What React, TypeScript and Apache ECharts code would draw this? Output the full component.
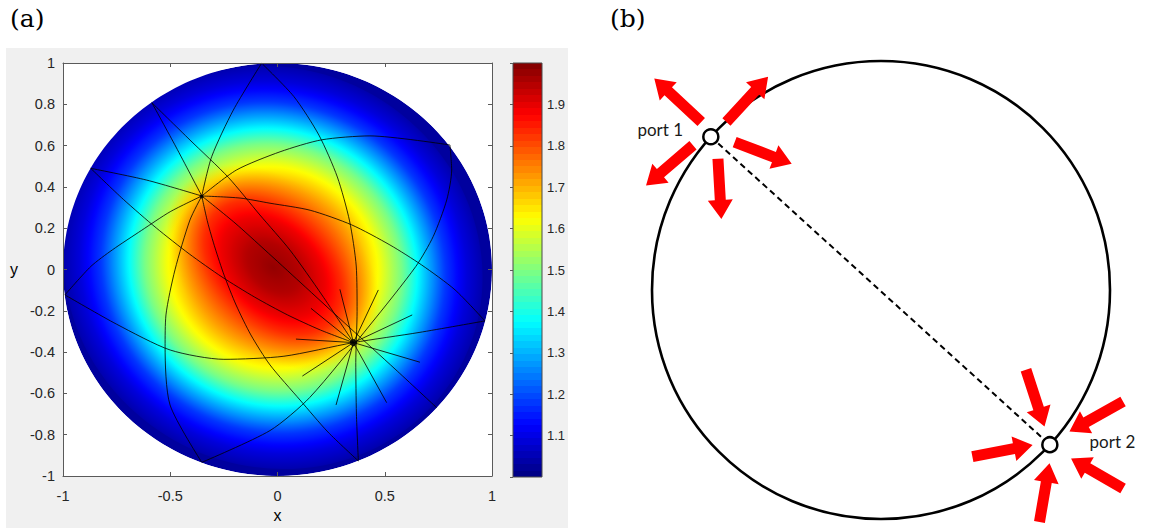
import React, { useEffect, useRef } from "react";
import * as echarts from "echarts";

// ---------------- Panel (a): refractive-index map ----------------
const colorMin = 1.0;
const colorMax = 2.0;
const colorbarTicks = [1.1, 1.2, 1.3, 1.4, 1.5, 1.6, 1.7, 1.8, 1.9];

// index value read along the x / y axes at a given distance from the peak
const fieldCenter = [-0.02, 0.01];
const outerAspect = 1.05; // outer contours: major (upper-left/lower-right) / minor
const innerAspect = 1.45; // elongated core
const innerMinor = 0.4; // extent of the elongated core along the minor axis
const profileDist = [0, 0.1, 0.2, 0.3, 0.4, 0.5, 0.6, 0.7, 0.8, 0.9, 1.0];
const profileValue = [1.98, 1.95, 1.89, 1.8, 1.71, 1.61, 1.49, 1.33, 1.18, 1.09, 1.03];

const port1A = [-0.354, 0.354];
const port2A = [0.354, -0.354];

// ray paths (x, y)
const rayP1T = [[-0.353, 0.356], [-0.307, 0.546], [-0.206, 0.772], [-0.074, 0.999]];
const rayTBR2 = [[-0.074, 0.999], [0.076, 0.838], [0.193, 0.651], [0.279, 0.448], [0.336, 0.235], [0.367, 0.017], [0.371, -0.203], [0.365, -0.45], [0.368, -0.7], [0.377, -0.927]];
const rayP1B = [[-0.353, 0.356], [-0.408, 0.24], [-0.478, -0.002], [-0.52, -0.22], [-0.524, -0.374], [-0.501, -0.656], [-0.353, -0.934]];
const rayP1R = [[-0.353, 0.356], [-0.191, 0.482], [0.012, 0.57], [0.206, 0.628], [0.431, 0.647], [0.804, 0.603]];
const rayRB = [[0.804, 0.603], [0.812, 0.482], [0.789, 0.337], [0.726, 0.16], [0.645, 0.015], [0.431, -0.269], [0.15, -0.62], [-0.035, -0.78], [-0.353, -0.934]];
const rayP1R2 = [[-0.353, 0.356], [-0.175, 0.346], [-0.035, 0.321], [0.152, 0.287], [0.346, 0.216], [0.524, 0.119], [0.672, 0.022], [0.828, -0.099], [0.967, -0.249]];
const rayR2P2L = [[0.967, -0.249], [0.66, -0.305], [0.354, -0.354], [0.03, -0.42], [-0.25, -0.435], [-0.5, -0.39], [-0.75, -0.265], [-0.991, -0.123]];
const rayP1L = [[-0.353, 0.356], [-0.5, 0.28], [-0.633, 0.19], [-0.77, 0.095], [-0.87, 0.015], [-0.991, -0.123]];
const rayV2P1 = [[-0.871, 0.49], [-0.61, 0.433], [-0.353, 0.356]];
const rayV2P2 = [[-0.871, 0.49], [-0.718, 0.339], [-0.565, 0.201], [-0.412, 0.076], [-0.259, -0.036], [-0.106, -0.134], [0.047, -0.22], [0.2, -0.293], [0.354, -0.354]];
const rayV1P1 = [[-0.586, 0.808], [-0.473, 0.593], [-0.353, 0.356]];
const rayV1P2 = [[-0.586, 0.808], [-0.408, 0.627], [-0.229, 0.446], [-0.082, 0.264], [0.058, 0.094], [0.207, -0.123], [0.354, -0.354]];
const rayP1BR = [[-0.353, 0.356], [-0.198, 0.225], [-0.058, 0.094], [0.105, -0.061], [0.338, -0.283], [0.548, -0.482], [0.742, -0.669]];
const rayP1BR2 = [[-0.353, 0.356], [-0.326, 0.23], [-0.291, 0.104], [-0.249, -0.027], [-0.193, -0.172], [-0.124, -0.317], [-0.035, -0.462], [0.105, -0.632], [0.235, -0.787], [0.377, -0.927]];

// short rays converging on port 2 (end points)
const starEnds = [[0.291, -0.096], [0.47, -0.099], [0.156, -0.188], [0.628, -0.22], [0.086, -0.337], [0.664, -0.449], [0.116, -0.516], [0.509, -0.645], [0.273, -0.656]];

// ---------------- Panel (b): schematic ----------------
const portAngleDeg = [138.0, -42.5];
const portNames = ["port 1", "port 2"];
// arrows: tailX, tailY, tipX, tipY (unit = circle radius)
const port1Arrows = [[-0.785, 0.734, -0.99, 0.924], [-0.675, 0.734, -0.493, 0.931], [-0.639, 0.646, -0.39, 0.551], [-0.712, 0.573, -0.697, 0.31], [-0.821, 0.632, -1.026, 0.456]];
const port2Arrows = [[0.633, -0.348, 0.714, -0.596], [1.057, -0.487, 0.823, -0.618], [0.399, -0.728, 0.662, -0.677], [1.057, -0.867, 0.83, -0.736], [0.692, -1.013, 0.736, -0.757]];

// ---------------- helpers ----------------
function clamp01(v: number) {
  return Math.max(0, Math.min(1, v));
}
function jet(v: number, alpha = 1) {
  const n = (v - colorMin) / (colorMax - colorMin);
  const r = clamp01(1.5 - Math.abs(4 * n - 3));
  const g = clamp01(1.5 - Math.abs(4 * n - 2));
  const b = clamp01(1.5 - Math.abs(4 * n - 1));
  return `rgba(${Math.round(r * 255)},${Math.round(g * 255)},${Math.round(b * 255)},${alpha})`;
}
function profileAt(d: number) {
  const xs = profileDist;
  const ys = profileValue;
  if (d <= xs[0]) return ys[0];
  for (let i = 0; i < xs.length - 1; i++) {
    if (d <= xs[i + 1]) return ys[i] + ((ys[i + 1] - ys[i]) * (d - xs[i])) / (xs[i + 1] - xs[i]);
  }
  const k = xs.length - 1;
  const slope = (ys[k] - ys[k - 1]) / (xs[k] - xs[k - 1]);
  return Math.max(colorMin, ys[k] + slope * (d - xs[k]));
}

const axisColor = "#5a5a5a";
const labelColor = "#262626";
const sansFont = "'Liberation Sans', Arial, sans-serif";

export default function App() {
  const ref = useRef<HTMLDivElement>(null);

  useEffect(() => {
    if (!ref.current) return;
    const chart = echarts.init(ref.current, null, { renderer: "svg" });

    // outer layer: axis extent E, gradient parameter t <-> axis distance t*E
    const E = 0.975;
    const fo = 1 / Math.sqrt(0.5 / (outerAspect * outerAspect) + 0.5);
    const outerMinor = E / fo;
    const outerMajor = outerAspect * outerMinor;
    const outerStops: any[] = [];
    for (let i = 0; i <= 80; i++) {
      const t = i / 80;
      outerStops.push({ offset: t, color: jet(profileAt(t * E)) });
    }
    // inner elongated core: same colours along the minor axis, stretched along the major axis
    const innerStops: any[] = [];
    for (let i = 0; i <= 60; i++) {
      const t = i / 60;
      const a = t < 0.65 ? 1 : Math.max(0, (1 - t) / 0.35);
      innerStops.push({ offset: t, color: jet(profileAt(t * innerMinor * fo), a) });
    }

    const barStops: any[] = [];
    for (let i = 0; i < 64; i++) {
      const v = colorMax - ((i + 0.5) / 64) * (colorMax - colorMin);
      barStops.push({ offset: i / 64, color: jet(v) });
      barStops.push({ offset: (i + 1) / 64, color: jet(v) });
    }

    const rays = [rayP1T, rayTBR2, rayP1B, rayP1R, rayRB, rayP1R2, rayR2P2L, rayP1L, rayV2P1, rayV2P2, rayV1P1, rayV1P2, rayP1BR, rayP1BR2];
    const raySeries = rays.map((r) => ({
      type: "line",
      xAxisIndex: 0,
      yAxisIndex: 0,
      data: r,
      smooth: 0.25,
      symbol: "none",
      silent: true,
      z: 3,
      lineStyle: { color: "#000", width: 1, opacity: 0.8 },
    }));
    const starSeries = starEnds.map((e) => ({
      type: "line",
      xAxisIndex: 0,
      yAxisIndex: 0,
      data: [port2A, e],
      symbol: "none",
      silent: true,
      z: 3,
      lineStyle: { color: "#000", width: 1, opacity: 0.8 },
    }));

    const ports = portAngleDeg.map((a) => [Math.cos((a * Math.PI) / 180), Math.sin((a * Math.PI) / 180)]);

    const mainX = {
      type: "value",
      min: -1,
      max: 1,
      interval: 0.5,
      z: 5,
      splitLine: { show: false },
      axisLine: { show: true, onZero: false, lineStyle: { color: axisColor, width: 1 } },
      axisTick: { show: true, inside: true, length: 4, lineStyle: { color: axisColor } },
    };
    const mainY = {
      type: "value",
      min: -1,
      max: 1,
      interval: 0.2,
      z: 5,
      splitLine: { show: false },
      axisLine: { show: true, onZero: false, lineStyle: { color: axisColor, width: 1 } },
      axisTick: { show: true, inside: true, length: 4, lineStyle: { color: axisColor } },
    };

    const option: any = {
      animation: false,
      graphic: [
        { type: "rect", left: 6, top: 48, z: -10, shape: { width: 562, height: 480 }, style: { fill: "#f0f0f0" } },
        { type: "text", left: 10, top: 6, style: { text: "(a)", fontSize: 25, fontFamily: "'DejaVu Serif', serif", fill: "#000" } },
        { type: "text", left: 610, top: 6, style: { text: "(b)", fontSize: 25, fontFamily: "'DejaVu Serif', serif", fill: "#000" } },
      ],
      grid: [
        { left: 63, top: 63, width: 429, height: 413 },
        { left: 513, top: 63, width: 29, height: 414 },
        { left: 652, top: 61, width: 458, height: 458 },
      ],
      xAxis: [
        {
          ...mainX,
          gridIndex: 0,
          position: "bottom",
          name: "x",
          nameLocation: "middle",
          nameGap: 29,
          nameTextStyle: { fontSize: 16, color: "#000", fontFamily: sansFont },
          axisLabel: { color: labelColor, fontSize: 14.5, margin: 12, fontFamily: sansFont, showMinLabel: true, showMaxLabel: true },
        },
        { ...mainX, gridIndex: 0, position: "top", axisLabel: { show: false } },
        { type: "value", gridIndex: 1, min: 0, max: 1, show: false },
        { type: "value", gridIndex: 2, min: -1, max: 1, show: false },
      ],
      yAxis: [
        {
          ...mainY,
          gridIndex: 0,
          position: "left",
          name: "y",
          nameLocation: "middle",
          nameRotate: 0,
          nameGap: 45,
          nameTextStyle: { fontSize: 16, color: "#000", fontFamily: sansFont },
          axisLabel: { color: labelColor, fontSize: 14.5, margin: 8, fontFamily: sansFont, showMinLabel: true, showMaxLabel: true },
        },
        { ...mainY, gridIndex: 0, position: "right", axisLabel: { show: false } },
        {
          type: "value",
          gridIndex: 1,
          position: "right",
          min: colorMin,
          max: colorMax,
          interval: 0.1,
          z: 5,
          splitLine: { show: false },
          axisLine: { show: false },
          axisTick: { show: true, inside: true, length: 3, lineStyle: { color: axisColor } },
          axisLabel: {
            color: labelColor,
            fontSize: 13,
            margin: 5,
            fontFamily: sansFont,
            formatter: (v: number) => {
              const hit = colorbarTicks.find((t) => Math.abs(t - v) < 1e-6);
              return hit !== undefined ? hit.toFixed(1) : "";
            },
          },
        },
        { type: "value", gridIndex: 2, min: -1, max: 1, show: false },
      ],
      series: [
        {
          type: "custom",
          xAxisIndex: 0,
          yAxisIndex: 0,
          z: 1,
          silent: true,
          data: [fieldCenter],
          renderItem: (params: any, api: any) => {
            const c = api.coord([api.value(0), api.value(1)]);
            const o = api.coord([0, 0]);
            const tl = api.coord([-1, 1]);
            const br = api.coord([1, -1]);
            const ux = (br[0] - tl[0]) / 2;
            const uy = (br[1] - tl[1]) / 2;
            let d = `M${tl[0]} ${tl[1]}L${br[0]} ${tl[1]}L${br[0]} ${br[1]}L${tl[0]} ${br[1]}Z`;
            const N = 240;
            for (let i = 0; i <= N; i++) {
              const th = (i / N) * Math.PI * 2;
              const px = o[0] + ux * Math.cos(th);
              const py = o[1] - uy * Math.sin(th);
              d += (i === 0 ? "M" : "L") + px.toFixed(2) + " " + py.toFixed(2);
            }
            d += "Z";
            return {
              type: "group",
              children: [
                { type: "ellipse", shape: { cx: o[0], cy: o[1], rx: ux, ry: uy }, style: { fill: jet(profileAt(1.0)) } },
                {
                  type: "group",
                  x: c[0],
                  y: c[1],
                  scaleX: ux,
                  scaleY: uy,
                  children: [
                    {
                      type: "ellipse",
                      rotation: -Math.PI / 4,
                      shape: { cx: 0, cy: 0, rx: outerMajor, ry: outerMinor },
                      style: { fill: new echarts.graphic.RadialGradient(0.5, 0.5, 0.5, outerStops) },
                    },
                    {
                      type: "ellipse",
                      rotation: -Math.PI / 4,
                      shape: { cx: 0, cy: 0, rx: innerMinor * innerAspect, ry: innerMinor },
                      style: { fill: new echarts.graphic.RadialGradient(0.5, 0.5, 0.5, innerStops) },
                    },
                  ],
                },
                { type: "path", shape: { pathData: d }, style: { fill: "#ffffff" } },
              ],
            };
          },
        },
        ...raySeries,
        ...starSeries,
        {
          type: "scatter",
          xAxisIndex: 0,
          yAxisIndex: 0,
          z: 4,
          silent: true,
          data: [port1A, port2A].map((p, i) => ({ value: p, symbolSize: i === 0 ? 4 : 7 })),
          itemStyle: { color: "#000" },
        },
        {
          type: "custom",
          xAxisIndex: 2,
          yAxisIndex: 2,
          z: 2,
          silent: true,
          data: [[0, colorMin, 1, colorMax]],
          renderItem: (params: any, api: any) => {
            const p0 = api.coord([api.value(0), api.value(3)]);
            const p1 = api.coord([api.value(2), api.value(1)]);
            return {
              type: "rect",
              shape: { x: p0[0], y: p0[1], width: p1[0] - p0[0], height: p1[1] - p0[1] },
              style: { fill: new echarts.graphic.LinearGradient(0, 0, 0, 1, barStops), stroke: "#4a4a4a", lineWidth: 1 },
            };
          },
        },
        // ---- panel (b) ----
        {
          type: "custom",
          xAxisIndex: 3,
          yAxisIndex: 3,
          z: 2,
          silent: true,
          data: [[0, 0, 1]],
          renderItem: (params: any, api: any) => {
            const c = api.coord([api.value(0), api.value(1)]);
            const s = api.size([api.value(2), api.value(2)]);
            return {
              type: "ellipse",
              shape: { cx: c[0], cy: c[1], rx: s[0], ry: s[1] },
              style: { fill: "none", stroke: "#000", lineWidth: 2.6 },
            };
          },
        },
        {
          type: "line",
          xAxisIndex: 3,
          yAxisIndex: 3,
          z: 3,
          silent: true,
          symbol: "none",
          data: ports,
          lineStyle: { color: "#000", width: 2, type: [6, 4] },
        },
        {
          type: "custom",
          xAxisIndex: 3,
          yAxisIndex: 3,
          z: 4,
          silent: true,
          data: [...port1Arrows, ...port2Arrows],
          renderItem: (params: any, api: any) => {
            const t = api.coord([api.value(0), api.value(1)]);
            const h = api.coord([api.value(2), api.value(3)]);
            const dx = h[0] - t[0];
            const dy = h[1] - t[1];
            const L = Math.hypot(dx, dy);
            const ux = dx / L;
            const uy = dy / L;
            const nx = -uy;
            const ny = ux;
            const sw = 5.5;
            const hw = 12.5;
            const hl = 19;
            const bx = h[0] - ux * hl;
            const by = h[1] - uy * hl;
            return {
              type: "polygon",
              shape: {
                points: [
                  [t[0] + nx * sw, t[1] + ny * sw],
                  [bx + nx * sw, by + ny * sw],
                  [bx + nx * hw, by + ny * hw],
                  [h[0], h[1]],
                  [bx - nx * hw, by - ny * hw],
                  [bx - nx * sw, by - ny * sw],
                  [t[0] - nx * sw, t[1] - ny * sw],
                ],
              },
              style: { fill: "#ff0000" },
            };
          },
        },
        {
          type: "scatter",
          xAxisIndex: 3,
          yAxisIndex: 3,
          z: 5,
          silent: true,
          symbol: "circle",
          symbolSize: 15,
          itemStyle: { color: "#ffffff", borderColor: "#000", borderWidth: 2.5, opacity: 1 },
          label: { show: true, formatter: "{b}", fontSize: 17, fontFamily: "Lato, 'Open Sans', sans-serif", color: "#1a1a1a" },
          data: ports.map((p, i) => ({
            value: p,
            name: portNames[i],
            label: i === 0 ? { position: "left", distance: 19, offset: [0, -7] } : { position: "right", distance: 31, offset: [0, -3] },
          })),
        },
      ],
    };

    chart.setOption(option);
    return () => chart.dispose();
  }, []);

  return <div ref={ref} style={{ position: "absolute", left: 0, top: 0, width: 1157, height: 531 }} />;
}
